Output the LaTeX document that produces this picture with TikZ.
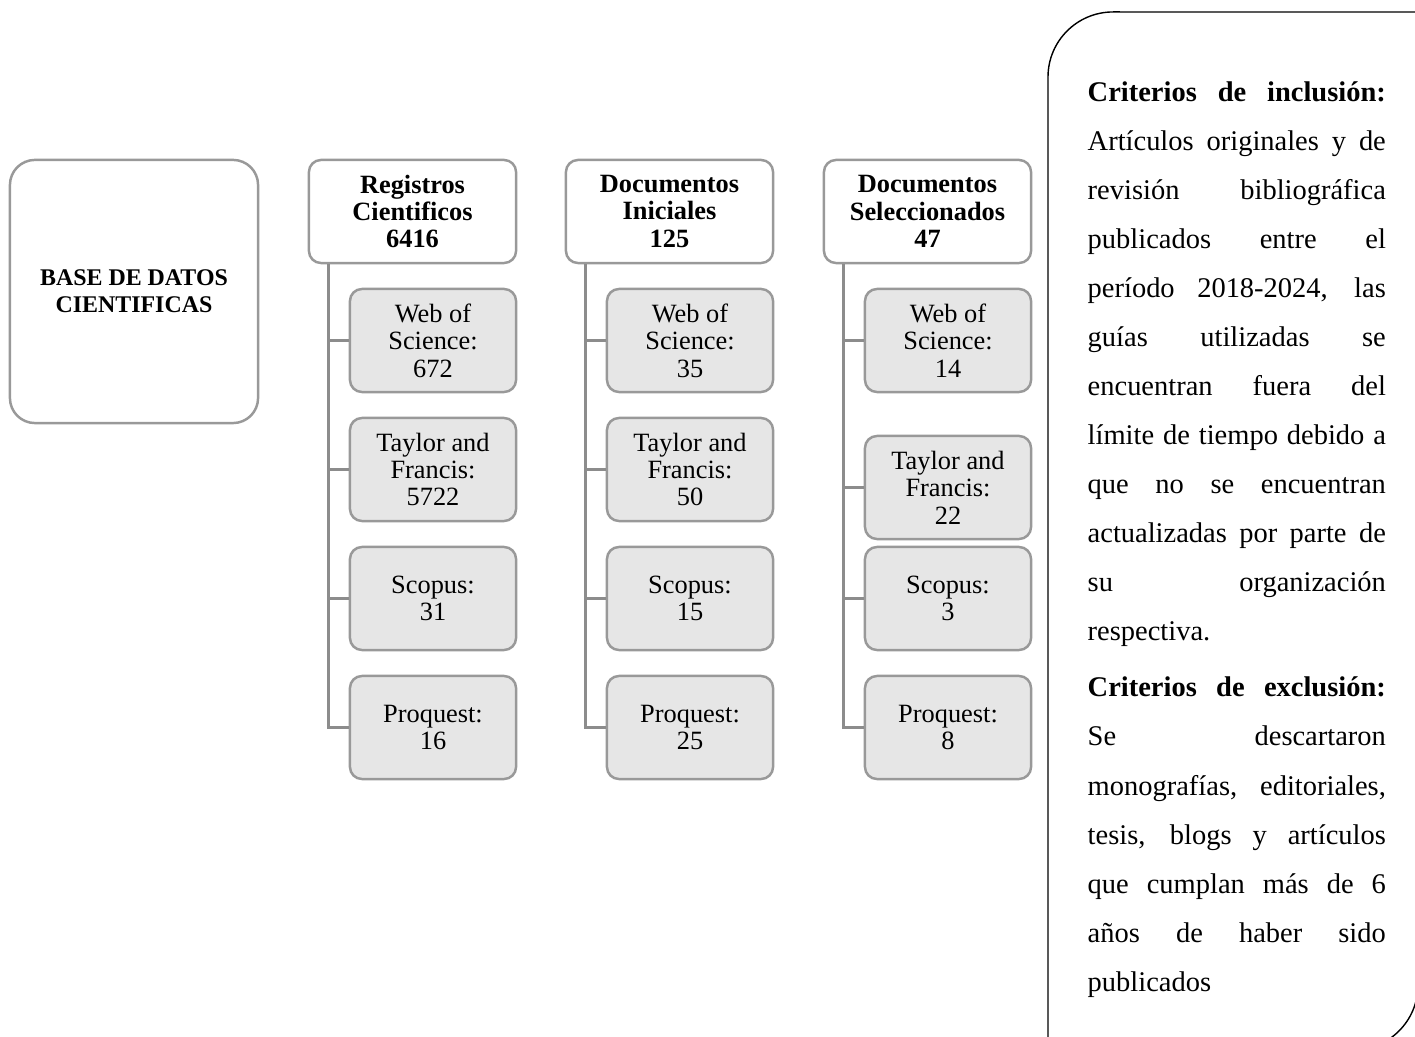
\documentclass[tikz,border=0pt]{standalone}
\usepackage{fontspec}
\setmainfont{Liberation Serif}
\usepackage{xcolor}
\definecolor{flow-border}{HTML}{999999}
\definecolor{flow-fill}{HTML}{E6E6E6}
\definecolor{flow-line}{HTML}{8C8C8C}
\usepackage{tikz}

\tikzset{
  dbbox/.style={draw=flow-border, line width=0.7pt, rounded corners=0.25cm, fill=white,
    minimum width=2.48cm, minimum height=2.63cm, inner sep=0pt, align=center,
    font=\bfseries\fontsize{6.8}{7.7}\selectfont},
  headbox/.style={draw=flow-border, line width=0.7pt, rounded corners=0.12cm, fill=white,
    minimum width=2.07cm, minimum height=1.03cm, inner sep=0pt, align=center,
    font=\bfseries\fontsize{7.5}{7.8}\selectfont},
  itembox/.style={draw=flow-border, line width=0.7pt, rounded corners=0.12cm, fill=flow-fill,
    minimum width=1.66cm, minimum height=1.03cm, inner sep=0pt, align=center,
    font=\fontsize{7.5}{7.8}\selectfont},
  branch/.style={draw=flow-line, line width=0.85pt},
  panel/.style={draw=black, line width=0.4pt},
  critline/.style={anchor=base west, inner sep=0pt, font=\fontsize{8.1}{13.9}\selectfont}
}

\begin{document}
\begin{tikzpicture}[x=0.01cm, y=-0.01cm]

    % Canvas
    \useasboundingbox (0, 0) rectangle (1415, 1037);
    \clip (0, 0) rectangle (1415, 1037);

    % Databases
    \node[dbbox] (db) at (134, 291.5) {BASE DE DATOS\\CIENTIFICAS};

    % Stages
    \node[headbox] (reg) at (412.5, 211.5) {Registros\\Cientificos\\6416};
    \node[headbox] (ini) at (669.5, 211.5) {Documentos\\Iniciales\\125};
    \node[headbox] (sel) at (927.5, 211.5) {Documentos\\Seleccionados\\47};

    % Registros
    \node[itembox] (reg-w) at (433, 340.5) {Web of\\Science:\\672};
    \node[itembox] (reg-t) at (433, 469.5) {Taylor and\\Francis:\\5722};
    \node[itembox] (reg-s) at (433, 598.5) {Scopus:\\31};
    \node[itembox] (reg-p) at (433, 727.5) {Proquest:\\16};

    % Iniciales
    \node[itembox] (ini-w) at (690, 340.5) {Web of\\Science:\\35};
    \node[itembox] (ini-t) at (690, 469.5) {Taylor and\\Francis:\\50};
    \node[itembox] (ini-s) at (690, 598.5) {Scopus:\\15};
    \node[itembox] (ini-p) at (690, 727.5) {Proquest:\\25};

    % Seleccionados
    \node[itembox] (sel-w) at (948, 340.5) {Web of\\Science:\\14};
    \node[itembox] (sel-t) at (948, 487.5) {Taylor and\\Francis:\\22};
    \node[itembox] (sel-s) at (948, 598.5) {Scopus:\\3};
    \node[itembox] (sel-p) at (948, 727.5) {Proquest:\\8};

    % Branches
    \foreach \col in {reg, ini, sel}
      \foreach \k in {w, t, s, p}
        \draw[branch] ([xshift=0.21cm]\col.south west) |- (\col-\k.west);

    % Criteria panel
    \draw[panel] (1048, 1050) -- (1048, 77) arc[start angle=180, end angle=90, radius=0.65cm]
      -- (1418, 12) -- (1418, 985) arc[start angle=0, end angle=-90, radius=0.65cm] -- cycle;

    % Inclusion
    \foreach \txt [count=\i] in {
        {\textbf{Criterios de inclusión:}},
        Artículos originales y de,
        revisión bibliográfica,
        publicados entre el,
        {período 2018-2024, las},
        guías utilizadas se,
        encuentran fuera del,
        límite de tiempo debido a,
        que no se encuentran,
        actualizadas por parte de,
        su organización,
        {respectiva.\hfill}}
      \node[critline] (inc-\i) at (1087, 53 + 49*\i) {\makebox[2.98cm][s]{\txt}};

    % Exclusion
    \foreach \txt [count=\i] in {
        {\textbf{Criterios de exclusión:}},
        Se descartaron,
        {monografías, editoriales,},
        {tesis, blogs y artículos},
        que cumplan más de 6,
        años de haber sido,
        {publicados\hfill}}
      \node[critline] (exc-\i) at (1087, 648 + 49*\i) {\makebox[2.98cm][s]{\txt}};

\end{tikzpicture}
\end{document}
